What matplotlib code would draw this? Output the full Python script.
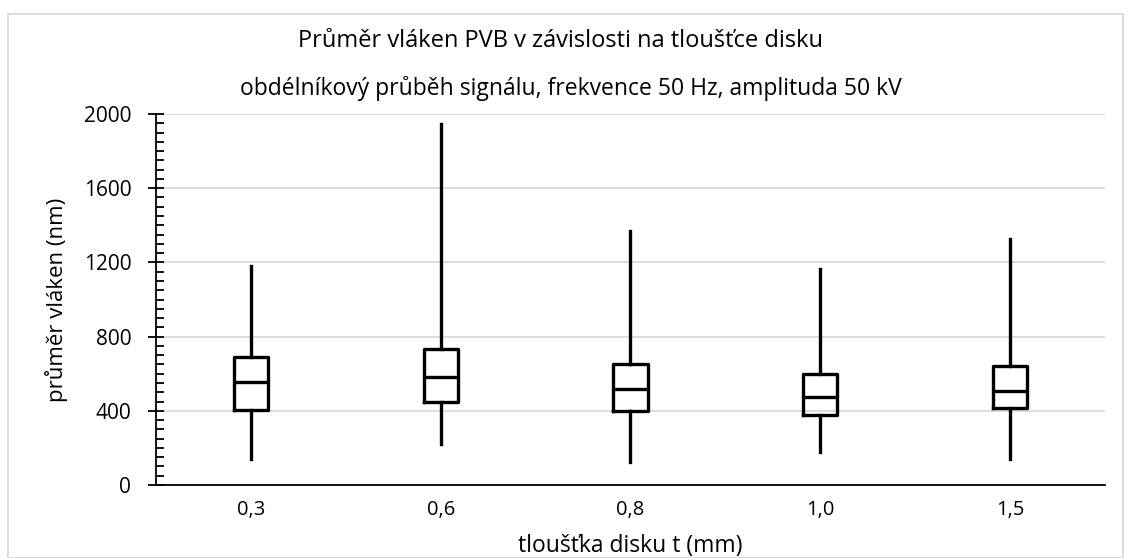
import matplotlib
matplotlib.use('Agg')
import matplotlib.pyplot as plt
from matplotlib.patches import Rectangle
from matplotlib.ticker import MultipleLocator

plt.rcParams['font.family'] = ['Open Sans', 'DejaVu Sans']

# disc thickness categories and box plot statistics (nm)
categories = ['0,3', '0,6', '0,8', '1,0', '1,5']
mins = [140, 219, 122, 178, 140]
q1s = [404, 446, 401, 377, 413]
medians = [555, 580, 516, 476, 505]
q3s = [688, 733, 652, 598, 643]
maxs = [1181, 1946, 1371, 1164, 1324]

fig = plt.figure(figsize=(11.31, 5.58), dpi=100)
ax = fig.add_axes([0.1379, 0.1308, 0.8391, 0.6649])

stats = []
for lo, a, m, b, hi in zip(mins, q1s, medians, q3s, maxs):
    stats.append({'whislo': lo, 'q1': a, 'med': m, 'q3': b, 'whishi': hi, 'fliers': []})

lw = 2.4
ax.bxp(stats, positions=range(1, len(categories) + 1), widths=0.18,
       showcaps=False, showfliers=False,
       boxprops=dict(color='black', linewidth=lw),
       whiskerprops=dict(color='black', linewidth=lw),
       medianprops=dict(color='black', linewidth=lw))

ax.set_xlim(0.5, len(categories) + 0.5)
ax.set_xticks(range(1, len(categories) + 1))
ax.set_xticklabels(categories)
ax.set_ylim(0, 2000)
ax.yaxis.set_major_locator(MultipleLocator(400))
ax.yaxis.set_minor_locator(MultipleLocator(50))

ax.grid(axis='y', color='#d9d9d9', linewidth=1.3)
ax.set_axisbelow(True)
for s in ['top', 'right']:
    ax.spines[s].set_visible(False)
ax.spines['left'].set_linewidth(1.3)
ax.spines['bottom'].set_linewidth(1.3)

ax.tick_params(axis='x', length=0, labelsize=14.5, pad=11)
ax.tick_params(axis='y', which='major', direction='inout', length=11.5, width=1.3,
               labelsize=15, pad=12)
ax.tick_params(axis='y', which='minor', direction='in', length=5.8, width=1.3)

ax.set_xlabel('tloušťka disku t (mm)', fontsize=16.5)
ax.xaxis.set_label_coords(0.5, -0.165)
ax.xaxis.label.set_va('center')
ax.set_ylabel('průměr vláken (nm)', fontsize=16)
ax.yaxis.set_label_coords(-0.1043, 0.5)
ax.yaxis.label.set_va('center')

fig.text(0.496, 0.927, 'Průměr vláken PVB v závislosti na tloušťce disku',
         ha='center', va='center', fontsize=17)
fig.text(0.505, 0.842, 'obdélníkový průběh signálu, frekvence 50 Hz, amplituda 50 kV',
         ha='center', va='center', fontsize=16.5)

# chart area border
fig.patches.append(Rectangle((8 / 1131, 0), 1 - 16 / 1131, 1 - 14 / 558,
                             transform=fig.transFigure, fill=False,
                             edgecolor='#d9d9d9', linewidth=1.3))

fig.savefig('out.png', dpi=100)
